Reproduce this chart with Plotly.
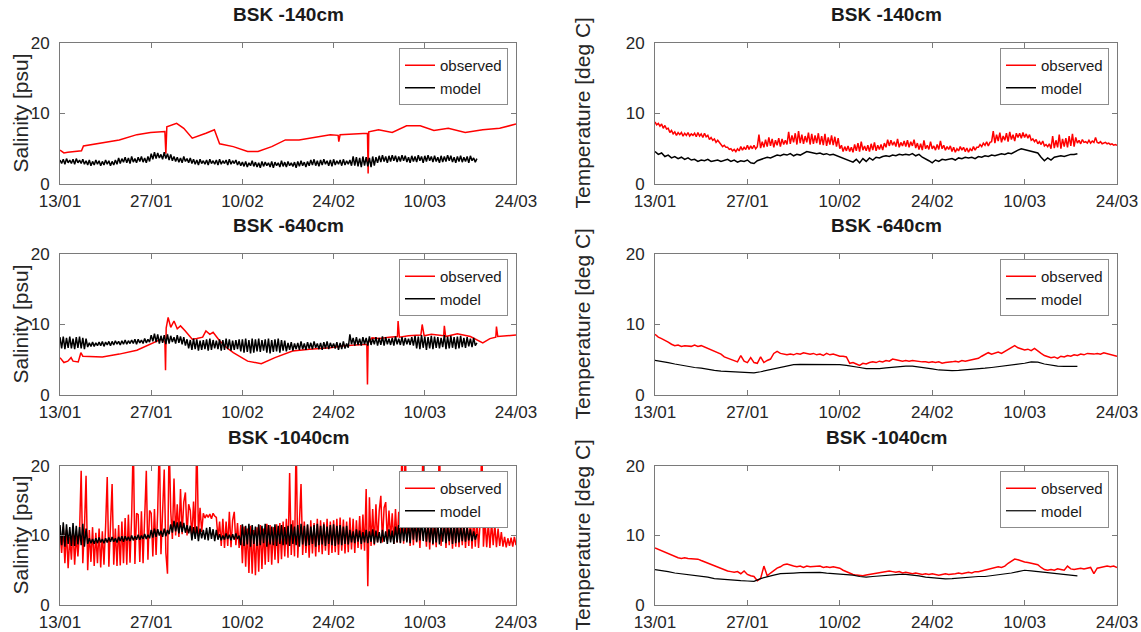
import pandas as pd
import plotly.graph_objects as go

BASE = pd.Timestamp("2015-01-13")
END = pd.Timestamp("2015-03-24")

# ---------------- salinity, -140 cm ----------------
SAL140_OBS_DAY = [0, 0.6, 1.2, 3.3, 3.6, 6.5, 9.1, 11.8, 13.9, 16.1, 16.25, 16.4, 17.9, 19, 20.3,
                  22.4, 23.7, 24.5, 26.6, 28.8, 30.4, 32.5, 34.6, 36.7, 39.4, 41.5, 42.7, 42.8, 43.0,
                  46.8, 47.2, 47.3, 47.4, 48.9, 51, 53.2, 55.3, 57.4, 59.6, 62.2, 64.9, 67.5, 70]
SAL140_OBS = [4.8, 4.4, 4.5, 4.7, 5.4, 5.8, 6.25, 7.0, 7.3, 7.45, 4.3, 8.1, 8.6, 7.9, 6.5,
              7.2, 7.7, 5.7, 5.3, 4.6, 4.6, 5.3, 6.25, 6.25, 6.7, 7.0, 6.9, 6.0, 7.0,
              7.2, 7.2, 1.5, 7.4, 7.7, 7.3, 8.25, 8.25, 7.6, 7.9, 7.3, 7.7, 7.9, 8.5]
# model output every 6 hours from 13/01 (one day per line)
SAL140_MOD = [
    3.4, 2.9, 3.5, 2.8,
    3.6, 3.0, 3.4, 2.9,
    3.5, 2.8, 3.6, 3.0,
    3.4, 2.9, 3.5, 2.8,
    3.3, 2.7, 3.4, 2.6,
    3.2, 2.7, 3.4, 2.8,
    3.3, 2.6, 3.2, 2.7,
    3.4, 2.8, 3.3, 2.6,
    3.2, 2.7, 3.4, 2.8,
    3.7, 2.9, 3.6, 3.1,
    3.8, 3.0, 3.7, 2.9,
    3.9, 3.1, 3.6, 3.0,
    3.8, 3.2, 3.9, 3.1,
    3.7, 3.0, 3.9, 3.2,
    4.3, 3.5, 4.5, 3.6,
    4.4, 3.7, 4.2, 3.5,
    4.5, 3.6, 4.3, 3.4,
    4.2, 3.3, 3.9, 3.2,
    3.8, 3.1, 3.7, 3.0,
    3.9, 3.2, 3.6, 3.0,
    3.7, 2.9, 3.5, 2.8,
    3.4, 2.7, 3.5, 2.9,
    3.3, 2.8, 3.4, 2.7,
    3.5, 2.9, 3.3, 2.8,
    3.4, 2.7, 3.5, 2.8,
    3.3, 2.9, 3.4, 2.7,
    3.5, 2.8, 3.3, 2.9,
    3.4, 2.7, 3.2, 2.6,
    3.1, 2.5, 3.2, 2.4,
    3.0, 2.6, 3.3, 2.5,
    3.1, 2.4, 3.0, 2.3,
    3.2, 2.5, 3.1, 2.6,
    3.0, 2.4, 3.2, 2.3,
    3.1, 2.6, 3.0, 2.4,
    3.3, 2.5, 3.1, 2.4,
    3.2, 2.6, 3.0, 2.5,
    3.1, 2.3, 3.2, 2.5,
    3.3, 2.6, 3.1, 2.4,
    3.2, 2.6, 3.4, 2.7,
    3.5, 2.6, 3.3, 2.5,
    3.4, 2.7, 3.5, 2.8,
    3.3, 2.6, 3.4, 2.5,
    3.5, 2.7, 3.3, 2.8,
    3.4, 2.6, 3.5, 2.7,
    3.3, 2.8, 3.4, 2.6,
    3.9, 2.6, 3.8, 2.5,
    3.7, 2.4, 3.9, 2.6,
    3.8, 2.5, 3.7, 2.4,
    3.9, 2.6, 3.8, 3.0,
    4.0, 3.1, 4.1, 3.2,
    3.9, 3.0, 4.0, 3.2,
    4.1, 3.3, 4.0, 3.1,
    3.9, 3.2, 4.1, 3.3,
    4.0, 3.1, 3.8, 3.0,
    4.0, 3.2, 3.9, 3.1,
    4.1, 3.3, 3.9, 3.0,
    4.0, 3.2, 4.1, 3.3,
    3.9, 3.1, 4.0, 3.2,
    3.8, 3.0, 4.0, 3.1,
    3.9, 3.2, 4.1, 3.3,
    4.0, 3.1, 3.8, 3.0,
    3.9, 3.2, 4.0, 3.1,
    3.8, 3.2, 3.9, 3.0,
    4.0, 3.3, 3.7, 3.1,
    3.6,
]

# ---------------- salinity, -640 cm ----------------
SAL640_OBS_DAY = [0, 0.6, 1.2, 1.7, 2.0, 2.8, 3.2, 3.5, 6.5, 9.1, 11.8, 13.9, 15.5, 16.1, 16.2,
                  16.3, 16.6, 17.0, 17.5, 18.0, 18.5, 19.2, 20.3, 21.0, 21.9, 22.4, 23.0, 23.5,
                  24.5, 25.6, 26.6, 28.8, 30.9, 33.0, 34.6, 35.7, 38.3, 41.5, 43.6, 46.8, 47.1,
                  47.2, 47.3, 47.9, 49.0, 50.5, 51.8, 51.9, 52.1, 53.5, 55.4, 55.6, 55.9, 57.0,
                  58.9, 59.0, 59.2, 61.0, 63.0, 64.9, 66.0, 66.9, 67.0, 67.2, 68.5, 70]
SAL640_OBS = [5.3, 4.6, 4.8, 5.3, 4.8, 4.7, 6.0, 5.5, 5.4, 5.8, 6.35, 7.2, 7.9, 7.6, 3.5,
              9.5, 11.0, 9.6, 10.5, 9.4, 9.8, 9.1, 7.9, 8.0, 8.2, 9.1, 8.6, 8.9,
              7.7, 6.7, 6.0, 4.8, 4.45, 5.3, 5.8, 6.25, 6.5, 6.7, 7.0, 7.2, 7.2,
              1.5, 7.4, 8.1, 8.0, 8.2, 8.3, 10.5, 8.2, 8.4, 8.5, 10.0, 8.4, 8.6,
              8.4, 9.8, 8.3, 8.7, 8.3, 7.4, 8.0, 8.2, 9.7, 8.3, 8.4, 8.5]
SAL640_MOD = [
    8.2, 6.6, 8.3, 6.5,
    8.1, 6.7, 8.3, 6.6,
    8.0, 6.5, 8.2, 6.7,
    8.3, 6.6, 8.1, 6.5,
    8.0, 6.8, 7.4, 6.9,
    7.5, 6.9, 7.4, 7.0,
    7.5, 7.0, 7.6, 6.9,
    7.5, 7.1, 7.6, 7.0,
    7.6, 7.1, 7.7, 7.2,
    7.6, 7.1, 7.7, 7.2,
    7.8, 7.2, 7.7, 7.3,
    7.8, 7.3, 7.9, 7.2,
    7.9, 7.4, 7.8, 7.3,
    8.0, 7.4, 7.9, 7.5,
    8.5, 7.6, 8.7, 7.5,
    8.6, 7.3, 8.4, 7.4,
    8.5, 7.2, 8.6, 7.3,
    8.4, 7.5, 8.2, 7.3,
    8.5, 7.4, 8.3, 7.2,
    8.2, 7.0, 7.9, 6.6,
    7.8, 6.4, 8.0, 6.5,
    7.9, 6.3, 7.7, 6.4,
    7.8, 6.5, 7.9, 6.3,
    8.0, 6.4, 7.8, 6.6,
    7.7, 6.5, 7.9, 6.3,
    7.8, 6.4, 8.0, 6.5,
    7.9, 6.3, 7.7, 6.4,
    7.8, 6.5, 7.9, 6.2,
    7.9, 6.0, 8.0, 6.1,
    7.8, 5.9, 8.0, 6.0,
    7.9, 6.2, 8.0, 6.1,
    7.8, 6.3, 7.9, 6.0,
    8.0, 5.9, 7.8, 6.1,
    7.9, 6.2, 8.0, 6.0,
    7.8, 6.3, 7.7, 6.2,
    7.4, 6.4, 7.5, 6.3,
    7.3, 6.5, 7.4, 6.4,
    7.6, 6.5, 7.3, 6.4,
    7.5, 6.6, 7.4, 6.5,
    7.6, 6.7, 7.3, 6.5,
    7.4, 6.4, 7.5, 6.6,
    7.6, 6.5, 7.4, 6.7,
    7.3, 6.6, 7.5, 6.4,
    7.4, 6.5, 7.6, 6.6,
    7.3, 6.7, 8.6, 7.2,
    8.1, 7.0, 8.2, 7.1,
    8.0, 7.0, 8.2, 7.2,
    8.1, 7.0, 8.3, 7.1,
    8.0, 7.2, 8.2, 7.0,
    8.1, 7.1, 8.3, 7.0,
    8.2, 7.2, 8.0, 7.1,
    8.1, 7.0, 8.3, 7.2,
    8.0, 7.1, 8.2, 7.0,
    8.1, 7.2, 8.0, 7.1,
    8.2, 7.0, 8.4, 6.6,
    8.3, 6.5, 8.5, 6.7,
    8.3, 6.4, 8.2, 6.6,
    8.4, 6.5, 8.3, 6.7,
    8.2, 6.6, 8.1, 6.8,
    8.5, 6.5, 8.3, 6.6,
    8.4, 6.7, 8.2, 6.5,
    8.3, 6.6, 8.4, 6.8,
    8.1, 6.7, 8.2, 6.9,
    8.0, 6.8, 8.1, 7.0,
    7.4,
]

# ---------------- salinity, -1040 cm ----------------
SAL1040_OBS = [
    10.5, 7.5, 11.2, 6.0,
    10.8, 5.3, 9.8, 6.5,
    11.0, 5.8, 10.2, 7.0,
    10.5, 19.3, 6.0, 11.0,
    18.6, 5.0, 10.8, 6.2,
    11.2, 5.6, 10.4, 6.0,
    11.0, 5.4, 10.6, 5.8,
    11.3, 18.4, 5.5, 10.9,
    17.4, 5.8, 11.0, 5.6,
    11.5, 5.7, 12.0, 6.0,
    12.5, 5.8, 13.0, 6.1,
    12.8, 24.0, 5.9, 13.2,
    13.0, 6.2, 13.5, 6.0,
    12.8, 19.3, 6.5, 13.6,
    13.2, 7.0, 13.8, 7.2,
    13.5, 24.0, 7.3, 13.9,
    19.5, 7.5, 4.5, 24.0,
    13.5, 9.5, 18.2, 10.0,
    14.5, 9.8, 16.7, 10.2,
    14.8, 16.2, 10.0, 14.5,
    13.6, 9.6, 14.9, 10.0,
    24.0, 10.2, 14.0, 10.5,
    13.2, 12.5, 13.0, 12.6,
    13.1, 12.4, 13.2, 12.8,
    12.6, 9.6, 12.0, 8.5,
    12.4, 8.2, 12.0, 8.5,
    13.4, 8.3, 12.2, 13.4,
    8.6, 11.8, 8.2, 11.5,
    6.0, 11.3, 5.5, 11.0,
    4.6, 11.4, 4.5, 10.8,
    4.3, 11.2, 4.8, 11.5,
    5.2, 11.0, 5.8, 11.7,
    6.2, 11.5, 5.8, 11.2,
    6.5, 11.6, 6.0, 11.8,
    6.6, 12.0, 7.0, 12.4,
    6.8, 19.0, 7.2, 12.2,
    7.0, 24.0, 6.8, 11.8,
    17.4, 7.2, 12.0, 7.5,
    11.5, 6.8, 12.2, 7.4,
    11.8, 7.0, 12.4, 7.6,
    12.2, 7.3, 11.9, 7.8,
    12.4, 7.2, 12.0, 7.5,
    12.2, 7.6, 12.4, 7.2,
    12.6, 7.8, 12.3, 7.4,
    12.0, 7.6, 12.6, 8.0,
    12.4, 7.5, 12.2, 8.2,
    12.8, 8.0, 13.0, 7.8,
    16.7, 2.7, 15.5, 8.5,
    13.8, 8.6, 14.5, 9.0,
    13.5, 15.7, 9.0, 14.0,
    14.8, 9.2, 13.6, 9.5,
    13.2, 8.8, 13.8, 9.0,
    13.4, 9.0, 24.0, 8.8,
    24.0, 9.2, 13.0, 8.5,
    13.2, 8.6, 13.4, 9.0,
    12.8, 8.2, 13.0, 24.0,
    12.4, 8.4, 12.8, 8.0,
    13.0, 8.6, 12.6, 8.3,
    12.8, 24.0, 8.5, 13.2,
    12.6, 8.2, 12.9, 8.6,
    12.4, 8.1, 12.7, 8.4,
    12.5, 8.3, 12.2, 8.6,
    12.4, 8.2, 12.0, 8.5,
    12.2, 8.1, 12.6, 8.4,
    12.3, 8.2, 12.0, 24.0,
    8.4, 12.1, 8.3, 11.8,
    8.2, 12.0, 8.6, 11.6,
    8.3, 11.0, 8.5, 10.5,
    8.4, 9.8, 8.3, 9.6,
    8.5, 9.7, 8.4, 9.8,
    8.6,
]
SAL1040_MOD = [
    11.5, 8.6, 11.9, 8.4,
    11.6, 8.8, 11.2, 8.5,
    11.8, 8.5, 11.4, 8.7,
    11.2, 8.6, 11.7, 8.4,
    11.0, 8.8, 9.6, 8.9,
    9.5, 8.8, 9.6, 8.9,
    9.7, 9.0, 9.5, 8.9,
    9.6, 9.0, 9.7, 9.1,
    9.8, 9.1, 9.6, 9.0,
    9.8, 9.2, 9.9, 9.1,
    9.9, 9.3, 9.8, 9.2,
    10.0, 9.3, 9.9, 9.4,
    10.1, 9.4, 10.0, 9.5,
    10.2, 9.5, 10.1, 9.6,
    10.8, 9.7, 11.0, 9.8,
    10.9, 10.0, 10.7, 9.8,
    11.0, 9.9, 10.8, 10.2,
    11.6, 10.4, 12.1, 10.6,
    11.9, 10.3, 12.0, 10.5,
    11.8, 10.4, 11.5, 10.3,
    11.4, 9.3, 11.2, 9.5,
    11.3, 9.2, 11.0, 9.6,
    10.8, 9.4, 11.1, 9.3,
    11.2, 9.5, 10.9, 9.2,
    10.8, 9.4, 10.2, 9.3,
    10.0, 9.4, 10.3, 9.5,
    10.1, 9.3, 10.2, 9.4,
    10.3, 9.5, 10.0, 8.6,
    11.6, 8.5, 11.4, 8.7,
    11.7, 8.4, 11.5, 8.8,
    11.3, 8.5, 11.6, 8.6,
    11.4, 8.9, 11.7, 8.4,
    11.5, 8.7, 11.3, 8.6,
    11.6, 8.5, 11.4, 8.8,
    11.5, 8.6, 11.2, 8.7,
    11.4, 8.5, 11.6, 8.8,
    11.3, 8.6, 11.5, 8.4,
    11.7, 8.7, 11.4, 8.5,
    11.6, 8.6, 11.3, 8.8,
    11.5, 8.4, 11.7, 8.6,
    11.4, 8.7, 11.6, 8.5,
    11.3, 8.8, 11.5, 8.6,
    11.6, 8.5, 11.4, 8.7,
    11.5, 8.6, 11.3, 8.8,
    11.4, 8.7, 10.8, 9.0,
    10.6, 8.9, 10.9, 9.1,
    10.7, 8.8, 10.5, 9.0,
    10.8, 8.9, 10.6, 9.1,
    10.9, 8.8, 10.7, 9.0,
    10.5, 8.9, 10.8, 9.1,
    10.6, 8.8, 10.9, 9.0,
    10.7, 8.8, 11.3, 9.0,
    11.5, 8.9, 11.6, 9.2,
    11.4, 9.0, 11.7, 8.9,
    12.2, 9.4, 12.0, 9.1,
    11.9, 9.3, 12.2, 9.2,
    11.8, 9.1, 11.7, 9.0,
    11.6, 8.8, 11.6, 9.0,
    11.9, 8.7, 11.5, 9.1,
    11.8, 8.9, 11.4, 9.2,
    11.6, 8.8, 11.9, 8.9,
    11.5, 9.0, 11.3, 9.2,
    11.4, 9.1, 11.2, 9.3,
    10.9, 9.2, 10.6, 9.4,
    10.2,
]

# ---------------- temperature, -140 cm ----------------
TEMP140_OBS = [
    8.8, 8.4, 8.6, 8.2,
    8.5, 7.9, 8.3, 7.8,
    7.9, 7.3, 7.6, 7.1,
    7.4, 6.9, 7.3, 7.0,
    7.3, 6.8, 7.2, 6.9,
    7.3, 6.8, 7.1, 6.9,
    7.2, 6.7, 7.3, 6.8,
    7.1, 6.6, 7.2, 6.7,
    6.9, 6.3, 6.6, 6.2,
    6.4, 5.9, 6.2, 5.8,
    5.6, 5.3, 5.5, 5.2,
    5.2, 4.9, 5.0, 4.7,
    4.9, 4.6, 5.0, 4.7,
    5.3, 4.8, 5.2, 4.9,
    5.5, 4.9, 5.4, 5.0,
    5.5, 5.0, 5.3, 7.0,
    5.1, 6.0, 5.2, 6.3,
    5.3, 6.6, 5.4, 6.4,
    5.2, 6.2, 5.5, 6.5,
    5.3, 6.4, 5.6, 6.2,
    5.6, 7.4, 5.7, 6.9,
    5.9, 7.2, 5.6, 7.5,
    5.8, 7.0, 5.7, 6.8,
    5.9, 7.3, 5.6, 7.1,
    5.7, 6.9, 5.8, 7.2,
    5.6, 6.8, 5.5, 7.1,
    5.4, 6.6, 5.6, 6.9,
    5.5, 6.7, 5.3, 6.5,
    5.0, 5.5, 4.6, 5.3,
    4.7, 5.4, 4.6, 5.2,
    4.5, 5.6, 4.7, 5.8,
    4.6, 6.0, 4.8, 5.4,
    4.7, 5.5, 4.6, 5.7,
    4.8, 5.9, 4.7, 5.5,
    4.9, 5.6, 4.8, 5.8,
    5.2, 6.3, 5.4, 6.2,
    5.5, 6.0, 5.3, 6.4,
    5.2, 5.9, 5.4, 6.1,
    5.3, 6.2, 5.2, 6.0,
    5.4, 6.3, 5.1, 5.8,
    4.9, 5.7, 4.8, 6.2,
    5.0, 5.5, 4.9, 6.0,
    5.0, 5.4, 4.8, 5.6,
    4.9, 6.1, 5.0, 5.5,
    4.8, 5.3, 4.9, 5.4,
    4.6, 5.2, 4.5, 5.0,
    4.7, 5.3, 4.8, 5.2,
    4.6, 5.1, 4.5, 5.0,
    4.7, 5.3, 4.8, 5.2,
    5.2, 5.6, 5.3, 5.8,
    5.5, 6.0, 5.4, 5.9,
    6.0, 7.5, 5.8, 7.0,
    6.1, 7.3, 5.9, 6.8,
    6.2, 7.2, 6.0, 7.4,
    6.3, 7.0, 6.1, 7.2,
    6.6, 7.2, 6.5, 7.3,
    6.6, 7.1, 6.5, 7.0,
    6.2, 6.4, 6.0, 6.3,
    5.7, 6.0, 5.6, 6.1,
    5.4, 5.6, 5.3, 5.7,
    5.0, 6.8, 5.1, 6.2,
    5.2, 7.0, 5.0, 6.4,
    5.3, 6.5, 5.2, 6.8,
    5.4, 7.1, 5.3, 6.6,
    5.8, 6.2, 5.7, 6.3,
    5.9, 6.0, 5.8, 6.2,
    5.8, 6.1, 5.9, 6.6,
    5.9, 5.8, 6.0, 5.7,
    5.8, 5.9, 5.7, 5.8,
    5.6, 5.7, 5.5, 5.6,
    5.5,
]
# model output every half day
TEMP140_MOD = [4.6, 4.2, 4.4, 3.9, 4.1, 3.7, 3.9,
               3.6, 3.8, 3.5, 3.7,
               3.4, 3.5, 3.2, 3.4, 3.3, 3.5, 3.2, 3.3,
               3.4, 3.2, 3.3, 3.5, 3.2, 3.4, 3.1, 3.3, 3.2, 3.4, 3.0, 2.9,
               3.3, 3.5, 3.6, 3.8, 3.7, 3.9,
               4.1, 4.0, 4.2, 4.1, 4.3, 4.0, 4.2, 4.1, 4.3, 4.6,
               4.5, 4.4, 4.3, 4.4, 4.2, 4.3, 4.1, 4.2, 4.0, 3.8,
               3.6, 3.4, 3.3, 3.1,
               3.5, 3.0, 3.6, 3.2, 3.7, 3.4,
               3.8, 3.7, 3.9, 4.0, 3.9, 4.1, 4.0, 4.2, 4.1, 4.2,
               4.1, 4.3, 4.0, 4.2, 3.8, 3.6,
               3.3, 3.0, 3.4, 3.2, 3.5, 3.4,
               3.5, 3.6, 3.4, 3.7, 3.6, 3.8, 3.7, 3.8, 3.6, 3.9, 3.8, 4.0, 3.9, 4.1, 4.0, 4.2,
               4.3, 4.2, 4.4, 4.3, 4.6, 4.8,
               5.0, 4.9, 4.8, 4.7, 4.6, 4.4,
               3.8, 3.3, 3.7, 3.4,
               3.8, 3.9, 4.0, 3.9, 4.1, 4.2, 4.2, 4.3]

# ---------------- temperature, -640 cm (half-daily observations) ----------------
TEMP640_OBS = [8.6, 8.2, 8.0, 7.8, 7.5,
               7.2, 7.0, 7.1, 6.9, 7.0, 7.0,
               6.9, 7.1, 6.9, 7.0, 6.8, 6.6,
               6.4, 6.2, 6.0, 5.8,
               5.4, 5.2, 5.0, 4.8,
               4.7, 5.6, 4.8, 4.6,
               5.3, 4.6, 4.5, 5.4,
               4.6, 4.9, 5.1, 5.9,
               6.2, 5.9, 5.8, 5.7, 5.8, 5.7,
               5.9, 5.8, 6.0, 5.9, 5.8, 5.9,
               5.7, 5.8, 5.6, 5.9, 5.7, 5.8, 5.6, 5.5,
               5.5, 5.4, 4.5, 4.6,
               4.4, 4.2, 4.5, 4.4,
               4.6, 4.7, 4.6, 4.8, 4.7, 4.9, 4.8, 5.1,
               5.0, 4.9, 4.8, 4.9, 4.8, 4.9, 4.8, 4.8, 4.7, 4.7,
               4.6, 4.7, 4.6, 4.7, 4.5, 4.6, 4.6, 4.7,
               4.8, 4.7, 4.9, 4.8, 4.9, 5.0, 5.1, 5.2,
               5.5, 5.8, 6.0, 5.8,
               6.0, 6.1, 5.9, 6.2,
               6.5, 6.8, 7.0, 6.7,
               6.6, 6.4, 6.5, 6.3, 6.6, 6.2,
               5.9, 5.6, 5.5, 5.3, 5.4, 5.2, 5.5, 5.4,
               5.6, 5.5, 5.7, 5.6, 5.8, 5.7, 5.9, 5.8,
               5.8, 5.9, 5.8, 6.0, 5.9, 5.8, 5.7, 5.5]
# model output once a day
TEMP640_MOD = [4.9, 4.8, 4.6, 4.4, 4.2, 4.05, 3.9, 3.8, 3.6, 3.5,
               3.4, 3.35, 3.3, 3.2, 3.1, 3.15, 3.3, 3.5, 3.8, 4.0,
               4.2, 4.3, 4.35, 4.35, 4.4, 4.4, 4.35, 4.3, 4.3, 4.2,
               4.1, 3.9, 3.75, 3.7, 3.75, 3.85, 3.95, 4.05, 4.1, 4.1,
               4.0, 3.85, 3.7, 3.55, 3.45, 3.45, 3.5, 3.55, 3.65, 3.75,
               3.8, 3.9, 4.0, 4.1, 4.2, 4.35, 4.5, 4.7, 4.65, 4.4,
               4.2, 4.1, 4.05, 4.0, 4.05]

# ---------------- temperature, -1040 cm ----------------
TEMP1040_OBS = [8.2, 8.0, 7.8, 7.6, 7.4,
                7.1, 6.9, 6.8, 6.7, 6.8, 6.7,
                6.7, 6.6, 6.6, 6.4, 6.2, 6.0,
                5.8, 5.6, 5.5, 5.3,
                5.1, 4.9, 4.8, 4.7,
                4.8, 4.5, 4.9, 4.4,
                4.2, 4.1, 3.5, 3.8,
                5.6, 4.2, 4.6, 5.0,
                5.3, 5.5, 5.8, 5.9, 5.7, 5.6,
                5.5, 5.6, 5.4, 5.6, 5.5, 5.5,
                5.5, 5.6, 5.4, 5.5, 5.4, 5.5, 5.4, 5.3,
                5.0, 4.8, 4.5, 4.4,
                4.3, 4.2, 4.2, 4.3,
                4.4, 4.5, 4.5, 4.6, 4.7, 4.8, 4.9, 4.8,
                4.7, 4.8, 4.6, 4.7, 4.6, 4.5, 4.6, 4.5, 4.4, 4.5,
                4.4, 4.5, 4.4, 4.3, 4.4, 4.5, 4.4, 4.4,
                4.5, 4.6, 4.5, 4.6, 4.7, 4.6, 4.8, 4.8,
                4.9, 5.0, 5.2, 5.3,
                5.4, 5.5, 5.4, 5.6,
                6.0, 6.3, 6.6, 6.5,
                6.3, 6.2, 6.1, 6.0, 5.9, 5.8,
                5.4, 5.1, 5.0, 5.1, 5.0, 5.2, 5.1, 5.0,
                5.6, 5.2, 5.1, 5.2, 5.3, 5.2, 5.3, 5.4,
                4.5, 5.3, 5.4, 5.5, 5.6, 5.5, 5.6, 5.4]
TEMP1040_MOD = [5.1, 5.0, 4.8, 4.6, 4.5, 4.3, 4.2, 4.1, 4.0, 3.8,
                3.7, 3.6, 3.55, 3.5, 3.45, 3.4, 3.8, 4.1, 4.3, 4.5,
                4.6, 4.6, 4.65, 4.7, 4.7, 4.7, 4.6, 4.55, 4.5, 4.4,
                4.3, 4.1, 4.0, 4.1, 4.2, 4.3, 4.4, 4.4, 4.4, 4.35,
                4.2, 4.0, 3.9, 3.8, 3.75, 3.8, 3.9, 4.0, 4.05, 4.1,
                4.1, 4.2, 4.3, 4.5, 4.6, 4.8, 5.0, 4.9, 4.8, 4.6,
                4.5, 4.4, 4.3, 4.25, 4.2]

TICK_LABEL_DAYS = [0, 14, 28, 42, 56, 70]


def dates_from_days(days):
    return BASE + pd.to_timedelta(days, unit="D")


def regular_dates(values, step_days):
    return dates_from_days([i * step_days for i in range(len(values))])


panels = [
    # row, col, title, y label, obs x, obs y, model x, model y
    (1, 1, "BSK -140cm", "Salinity [psu]",
     dates_from_days(SAL140_OBS_DAY), SAL140_OBS, regular_dates(SAL140_MOD, 0.25), SAL140_MOD),
    (1, 2, "BSK -140cm", "Temperature [deg C]",
     regular_dates(TEMP140_OBS, 0.25), TEMP140_OBS, regular_dates(TEMP140_MOD, 0.5), TEMP140_MOD),
    (2, 1, "BSK -640cm", "Salinity [psu]",
     dates_from_days(SAL640_OBS_DAY), SAL640_OBS, regular_dates(SAL640_MOD, 0.25), SAL640_MOD),
    (2, 2, "BSK -640cm", "Temperature [deg C]",
     regular_dates(TEMP640_OBS, 0.5), TEMP640_OBS, regular_dates(TEMP640_MOD, 1), TEMP640_MOD),
    (3, 1, "BSK -1040cm", "Salinity [psu]",
     regular_dates(SAL1040_OBS, 0.25), SAL1040_OBS, regular_dates(SAL1040_MOD, 0.25), SAL1040_MOD),
    (3, 2, "BSK -1040cm", "Temperature [deg C]",
     regular_dates(TEMP1040_OBS, 0.5), TEMP1040_OBS, regular_dates(TEMP1040_MOD, 1), TEMP1040_MOD),
]

W, H = 1141, 632
# pixel boxes of the six axes
COL_X = {1: (60, 516), 2: (655, 1117)}
ROW_Y = {1: (43, 184), 2: (254, 395), 3: (466, 605)}
YLABEL_X = {1: 20, 2: 582}

FONT = "Liberation Sans, Arial, Helvetica, sans-serif"
AX_COLOR = "#7a7a7a"
TXT_COLOR = "#262626"

fig = go.Figure()
layout = dict(
    width=W, height=H,
    margin=dict(l=0, r=0, t=0, b=0, autoexpand=False),
    paper_bgcolor="white", plot_bgcolor="white",
    font=dict(family=FONT, color=TXT_COLOR),
    annotations=[],
)

for k, (row, col, title, ylab, ox, oy, mx, my) in enumerate(panels, start=1):
    suffix = "" if k == 1 else str(k)
    legend_name = "legend" if k == 1 else f"legend{k}"
    x0, x1 = COL_X[col]
    y0, y1 = ROW_Y[row]
    dom_x = [x0 / W, x1 / W]
    dom_y = [1 - y1 / H, 1 - y0 / H]
    thin_model = col == 2 and row > 1

    fig.add_trace(go.Scatter(x=ox, y=oy, mode="lines", name="observed",
                             line=dict(color="#ff0000", width=1.5),
                             xaxis=f"x{suffix}", yaxis=f"y{suffix}", legend=legend_name))
    fig.add_trace(go.Scatter(x=mx, y=my, mode="lines", name="model",
                             line=dict(color="#000000", width=1.2 if thin_model else 1.5),
                             xaxis=f"x{suffix}", yaxis=f"y{suffix}", legend=legend_name))

    layout[f"xaxis{suffix}"] = dict(
        domain=dom_x, anchor=f"y{suffix}", type="date", automargin=False,
        range=[BASE, END],
        tickvals=list(dates_from_days(TICK_LABEL_DAYS)), tickformat="%d/%m",
        ticks="inside", ticklen=5, tickcolor=AX_COLOR,
        showline=True, linecolor=AX_COLOR, linewidth=1, mirror="ticks",
        showgrid=False, zeroline=False, ticklabelstandoff=2,
        tickfont=dict(size=17, color=TXT_COLOR, family=FONT),
    )
    layout[f"yaxis{suffix}"] = dict(
        domain=dom_y, anchor=f"x{suffix}", range=[0, 20], automargin=False,
        tickvals=[0, 10, 20],
        ticks="inside", ticklen=5, tickcolor=AX_COLOR,
        showline=True, linecolor=AX_COLOR, linewidth=1, mirror="ticks",
        showgrid=False, zeroline=False, ticklabelstandoff=6,
        tickfont=dict(size=17, color=TXT_COLOR, family=FONT),
    )
    layout[legend_name] = dict(
        x=(x1 - 8) / W, y=1 - (y0 + 5) / H, xanchor="right", yanchor="top",
        bgcolor="white", bordercolor="#8c8c8c", borderwidth=1,
        font=dict(size=15, color="#1a1a1a", family=FONT),
        itemwidth=30, tracegroupgap=0,
    )
    layout["annotations"].append(dict(
        text=f"<b>{title}</b>", x=(x0 + x1) / 2 / W, y=1 - (y0 - 29) / H,
        xref="paper", yref="paper", xanchor="center", yanchor="middle",
        showarrow=False, font=dict(size=19, color="#1a1a1a", family=FONT),
    ))
    layout["annotations"].append(dict(
        text=ylab, x=YLABEL_X[col] / W, y=1 - (y0 + y1) / 2 / H, textangle=-90,
        xref="paper", yref="paper", xanchor="center", yanchor="middle",
        showarrow=False, font=dict(size=21, color=TXT_COLOR, family=FONT),
    ))

fig.update_layout(**layout)
fig.write_html("out.html")
